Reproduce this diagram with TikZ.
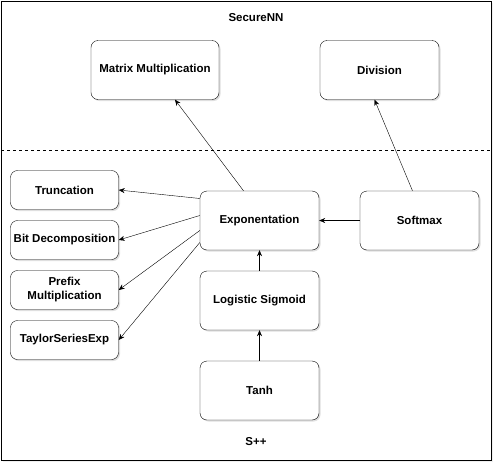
\documentclass[tikz,border=0pt]{standalone}
\usepackage{fontspec}
\setmainfont{Liberation Sans}
\usetikzlibrary{arrows.meta,shadows}

\begin{document}
\begin{tikzpicture}[x=1pt,y=-1pt,
        box/.style={draw, rounded corners=7pt, fill=white, minimum width=119pt, minimum height=59pt,
            align=center, font=\fontsize{11.5}{13}\selectfont\bfseries,
            drop shadow={opacity=0.25, shadow xshift=1.5pt, shadow yshift=-1.5pt}},
        smallbox/.style={box, minimum width=108pt, minimum height=39pt, inner sep=1pt},
        arr/.style={-{Stealth[length=6pt,width=5pt]}, thin},
        title/.style={font=\fontsize{11.5}{13}\selectfont\bfseries}]
        \useasboundingbox (0,0) rectangle (503,472);

        % Frame
        \draw[fill=black!12, draw=none, opacity=0.5] (3,3) rectangle (493,462);
        \draw[fill=white] (1,1) rectangle (491,460);
        \draw[dashed] (1,150) -- (491,150);
        \node[title] (secnn) at (256,18) {SecureNN};
        \node[title] (spp) at (256,442) {S++};

        % Nodes
        \node (mat) at (155,70) [box, minimum width=128pt] {Matrix Multiplication};
        \node (div) at (379.5,70) [box] {Division};
        \node (exp) at (259.5,220.5) [box] {Exponentation};
        \node (soft) at (419.5,220.5) [box] {Softmax};
        \node (sig) at (259.5,300.5) [box] {Logistic Sigmoid};
        \node (tanh) at (259.5,390.5) [box] {Tanh};
        \node (trunc) at (64.5,190) [smallbox] {Truncation};
        \node (bit) at (64.5,240) [smallbox] {Bit Decomposition};
        \node (pre) at (64.5,290) [smallbox, font=\fontsize{11.5}{14}\selectfont\bfseries] {Prefix\\Multiplication};
        \node (tay) at (64.5,340) [smallbox] {TaylorSeriesExp};

        % Edges
        \draw[arr] ([xshift=-16pt]exp.north) -- ([xshift=20pt]mat.south);
        \draw[arr] ([xshift=-7pt]soft.north) -- ([xshift=-5pt]div.south);
        \draw[arr] (soft.west) -- (exp.east);
        \draw[arr] (sig.north) -- (exp.south);
        \draw[arr] (tanh.north) -- (sig.south);
        \draw[arr] ([yshift=22pt]exp.west) -- (trunc.east);
        \draw[arr] ([yshift=5pt]exp.west) -- (bit.east);
        \draw[arr] ([yshift=-10pt]exp.west) -- (pre.east);
        \draw[arr] ([yshift=-22pt]exp.west) -- (tay.east);
    \end{tikzpicture}
\end{document}
